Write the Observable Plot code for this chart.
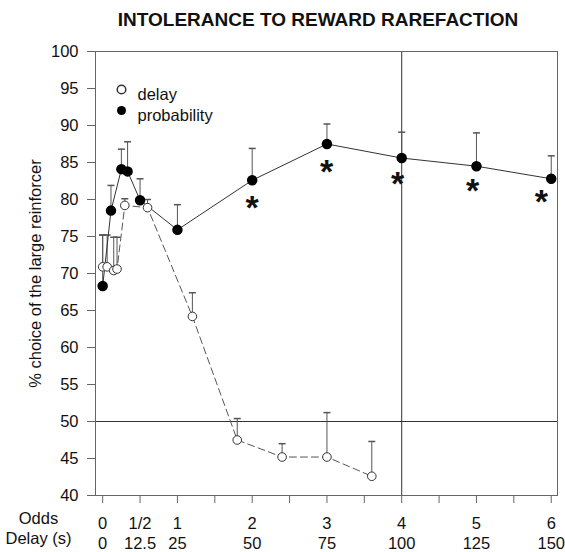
<!DOCTYPE html>
<html>
<head>
<meta charset="utf-8">
<script src="https://cdn.jsdelivr.net/npm/d3@7"></script>
<script src="https://cdn.jsdelivr.net/npm/@observablehq/plot@0.6"></script>
<style>
  body { margin: 0; background: #fff; font-family: "Liberation Sans", Arial, sans-serif; }
  #wrap { width: 565px; position: relative; }
  #title { position: relative; height: 36px; width: 565px; }
  #title span { position: absolute; left: 318px; top: 2px; transform: translateX(-50%); white-space: nowrap;
    font-weight: bold; font-size: 19px; line-height: 36px; color: #111; }
</style>
</head>
<body>
<div id="wrap">
  <div id="title"><span>INTOLERANCE TO REWARD RAREFACTION</span></div>
  <div id="chart"></div>
</div>
<script>
// ---- data (x in delay seconds; odds × 25) ----
const probX     = [0, 2.78, 6.25, 8.33, 12.5, 25, 50, 75, 100, 125, 150];
const probY     = [68.3, 78.5, 84.1, 83.8, 79.9, 75.9, 82.6, 87.5, 85.6, 84.5, 82.8];
const probUpper = [75.2, 81.9, 86.8, 87.8, 82.8, 79.3, 86.9, 90.2, 89.1, 89.0, 85.9];

const delayX     = [0, 1.5, 3.7, 4.8, 7.4, 15, 30, 45, 60, 75, 90];
const delayY     = [70.9, 70.9, 70.4, 70.6, 79.2, 78.9, 64.2, 47.5, 45.2, 45.2, 42.6];
const delayUpper = [75.2, 75.2, 74.9, 74.9, 80.1, 80.0, 67.4, 50.4, 47.0, 51.2, 47.3];

const starX = [50, 74.9, 98.6, 123.7, 146.7];
const starY = [80.1, 84.9, 83.3, 82.3, 80.8];

const labelTicks  = [0, 12.5, 25, 50, 75, 100, 125, 150];
const oddsLabels  = ["0", "1/2", "1", "2", "3", "4", "5", "6"];
const delayLabels = ["0", "12.5", "25", "50", "75", "100", "125", "150"];
const minorTicks  = [0, 12.5, 25, 37.5, 50, 62.5, 75, 87.5, 100, 112.5, 125, 137.5, 150];
const yTicks      = [40, 45, 50, 55, 60, 65, 70, 75, 80, 85, 90, 95, 100];
const rowLabels   = ["Odds", "Delay (s)"];
const seriesNames = ["delay", "probability"];
const yLabel      = "% choice of the large reinforcer";

const prob  = probX.map((x, i) => ({x, y: probY[i], upper: probUpper[i]}));
const delay = delayX.map((x, i) => ({x, y: delayY[i], upper: delayUpper[i]}));
const stars = starX.map((x, i) => ({x, y: starY[i]}));

const cap = { draw(ctx) { ctx.moveTo(-3.5, 0); ctx.lineTo(3.5, 0); } };

const gray = "#555";
const chart = Plot.plot({
  width: 565,
  height: 516,
  marginTop: 15,
  marginBottom: 57,
  marginLeft: 95,
  marginRight: 8,
  style: { fontFamily: "Liberation Sans, Arial, sans-serif", fontSize: "16.5px", color: "#111", background: "#fff" },
  x: { domain: [-2.4, 152.1] },
  y: { domain: [40, 100] },
  marks: [
    Plot.ruleY([50], { stroke: "#333" }),
    Plot.ruleX([100], { stroke: "#333" }),
    Plot.frame({ stroke: "#666" }),
    Plot.axisY({ ticks: yTicks, tickSize: 8, tickPadding: 9, stroke: "#666", label: null }),
    Plot.axisX({ ticks: minorTicks, tickSize: 8, tickFormat: () => "", stroke: "#666", label: null }),
    Plot.axisX({ ticks: labelTicks, tickSize: 0, tickPadding: 22, tickFormat: (d) => oddsLabels[labelTicks.indexOf(d)], label: null }),
    Plot.axisX({ ticks: labelTicks, tickSize: 0, tickPadding: 42, tickFormat: (d) => delayLabels[labelTicks.indexOf(d)], label: null }),
    Plot.text([rowLabels[0]], { frameAnchor: "bottom-left", dx: -57, dy: 28, textAnchor: "middle" }),
    Plot.text([rowLabels[1]], { frameAnchor: "bottom-left", dx: -57, dy: 48, textAnchor: "middle" }),
    Plot.text([yLabel], { frameAnchor: "left", dx: -60, rotate: -90, textAnchor: "middle" }),
    // error bars
    Plot.ruleX(delay, { x: "x", y1: "y", y2: "upper", stroke: gray }),
    Plot.dot(delay, { x: "x", y: "upper", symbol: cap, stroke: gray, fill: "none" }),
    Plot.ruleX(prob, { x: "x", y1: "y", y2: "upper", stroke: gray }),
    Plot.dot(prob, { x: "x", y: "upper", symbol: cap, stroke: gray, fill: "none" }),
    // lines
    Plot.line(delay, { x: "x", y: "y", stroke: "#555", strokeDasharray: "7,4", strokeWidth: 1 }),
    Plot.line(prob, { x: "x", y: "y", stroke: "#333", strokeWidth: 1 }),
    // points
    Plot.dot(delay, { x: "x", y: "y", r: 4.3, fill: "#fff", stroke: "#333", strokeWidth: 1 }),
    Plot.dot(prob, { x: "x", y: "y", r: 4.5, fill: "#000", stroke: "#000" }),
    // significance stars
    Plot.text(stars, { x: "x", y: "y", text: () => "*", fontSize: 34, fontWeight: "bold", dy: 9, fill: "#111" }),
    // legend
    Plot.dot([seriesNames[0]], { frameAnchor: "top-left", dx: 26, dy: 38, r: 4.3, fill: "#fff", stroke: "#333" }),
    Plot.dot([seriesNames[1]], { frameAnchor: "top-left", dx: 26, dy: 59, r: 4.5, fill: "#000" }),
    Plot.text([seriesNames[0]], { frameAnchor: "top-left", dx: 42, dy: 37, textAnchor: "start" }),
    Plot.text([seriesNames[1]], { frameAnchor: "top-left", dx: 42, dy: 58, textAnchor: "start" })
  ]
});
document.getElementById("chart").appendChild(chart);
</script>
</body>
</html>
